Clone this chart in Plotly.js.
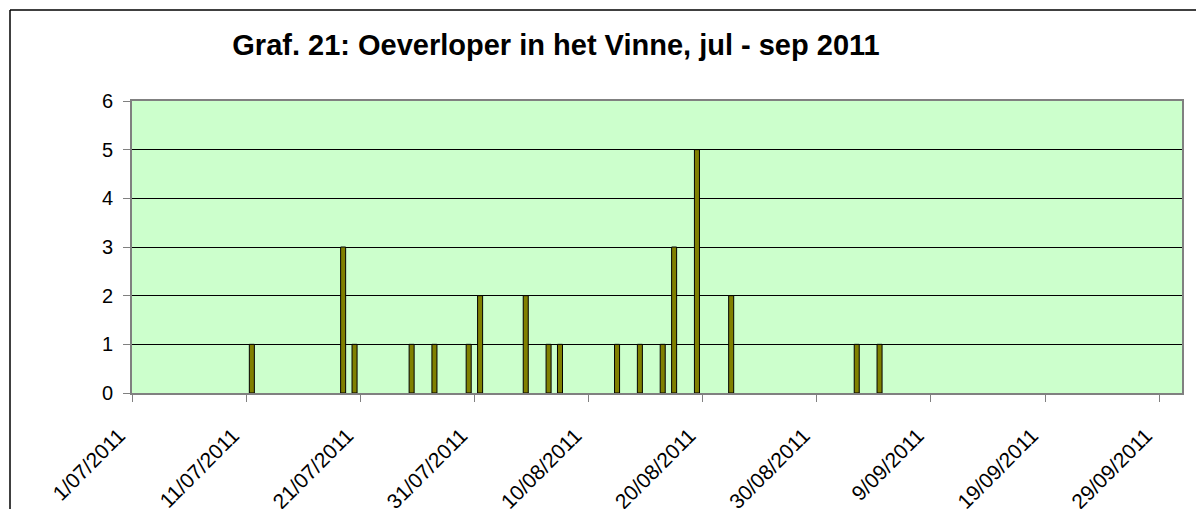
<!DOCTYPE html>
<html>
<head>
<meta charset="utf-8">
<script src="https://cdn.plot.ly/plotly-3.0.1.min.js"></script>
<style>html,body{margin:0;padding:0;background:#fff;}#chart{width:1196px;height:509px;}</style>
</head>
<body>
<div id="chart"></div>
<script>
const dates = ["2011-07-11","2011-07-19","2011-07-20","2011-07-25","2011-07-27","2011-07-30","2011-07-31",
  "2011-08-04","2011-08-06","2011-08-07","2011-08-12","2011-08-14","2011-08-16","2011-08-17","2011-08-19",
  "2011-08-22","2011-09-02","2011-09-04"];
const counts = [1,3,1,1,1,1,2,2,1,1,1,1,1,3,5,2,1,1];
const titleText = "Graf. 21: Oeverloper in het Vinne, jul - sep 2011";
const xRange = ["2011-07-01","2011-10-01"];
const yTicks = [0,1,2,3,4,5,6];

const DAY = 86400000;
const fontFam = "Arial, 'Liberation Sans', sans-serif";

const trace = {
  type: "bar",
  x: dates,
  y: counts,
  xperiod: DAY,
  xperiodalignment: "middle",
  width: dates.map(() => 0.44 * DAY),
  marker: {color: "#808000", line: {color: "#000000", width: 1}},
  hoverinfo: "x+y"
};

const layout = {
  width: 1196, height: 509,
  margin: {l: 132, r: 14, t: 101, b: 116},
  paper_bgcolor: "#ffffff",
  plot_bgcolor: "#CCFFCC",
  showlegend: false,
  font: {family: fontFam, size: 20, color: "#000"},
  title: {
    text: "<b>" + titleText + "</b>",
    font: {family: fontFam, size: 29, color: "#000"},
    x: 556/1196, xanchor: "center", xref: "container",
    y: 1 - 45/509, yanchor: "middle", yref: "container"
  },
  xaxis: {
    type: "date",
    range: xRange,
    tick0: "2011-07-01",
    dtick: 10 * DAY,
    tickformat: "%-d/%m/%Y",
    tickangle: -45,
    ticks: "outside", ticklen: 7, tickcolor: "#808080", tickwidth: 1,
    ticklabelstandoff: 13,
    ticklabelshift: -13,
    showline: true, linecolor: "#808080", linewidth: 2, mirror: true,
    showgrid: false, zeroline: false,
    tickfont: {family: fontFam, size: 21, color: "#000"}
  },
  yaxis: {
    range: [0, 6],
    tickvals: yTicks,
    ticks: "outside", ticklen: 7, tickcolor: "#808080", tickwidth: 1,
    ticklabelstandoff: 6,
    showline: true, linecolor: "#808080", linewidth: 2, mirror: true,
    showgrid: true, gridcolor: "#000000", gridwidth: 1,
    zeroline: false,
    tickfont: {family: fontFam, size: 20, color: "#000"}
  },
  shapes: [
    {type: "line", xref: "paper", yref: "paper", x0: -122/1050, x1: 1.2, y0: 1 + 91/292, y1: 1 + 91/292,
     line: {color: "#000", width: 1.5}},
    {type: "line", xref: "paper", yref: "paper", x0: -122/1050, x1: -122/1050, y0: 1 + 91/292, y1: -0.5,
     line: {color: "#000", width: 1.5}}
  ]
};

Plotly.newPlot("chart", [trace], layout, {displayModeBar: false, staticPlot: true});
</script>
</body>
</html>
